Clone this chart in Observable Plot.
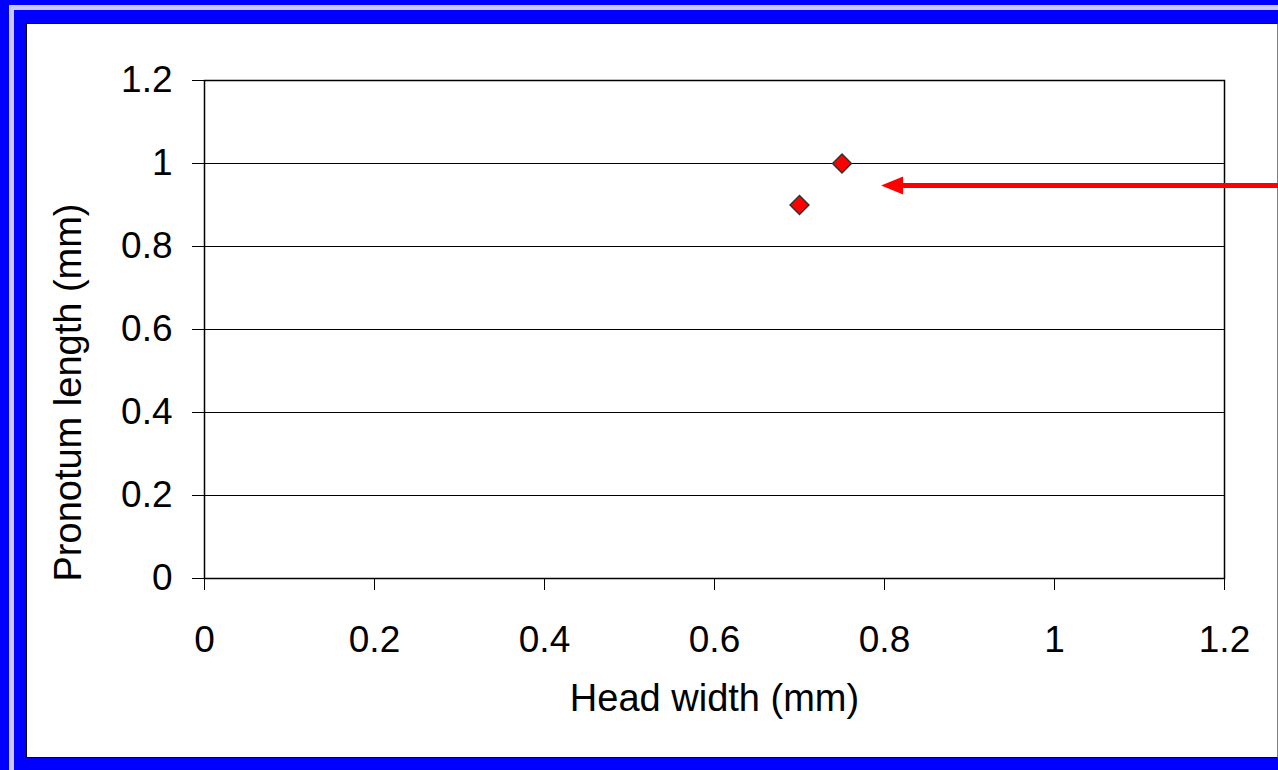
<!DOCTYPE html>
<html>
<head>
<meta charset="utf-8">
<script src="https://cdn.jsdelivr.net/npm/d3@7"></script>
<script src="https://cdn.jsdelivr.net/npm/@observablehq/plot@0.6"></script>
<style>
  html, body { margin: 0; padding: 0; background: #0000ff; }
  #slide {
    position: relative; width: 1278px; height: 770px; overflow: hidden;
    background: #0000ff; font-family: "Liberation Sans", Arial, sans-serif;
  }
  #stripe {
    position: absolute; left: 9px; top: 5px; right: -40px; bottom: -40px;
    border: 5px solid #c8c8ff;
  }
  #panel {
    position: absolute; left: 26px; top: 23px; width: 1252px; height: 735px;
    box-sizing: border-box; background: #fff;
    border: 1px solid #000; border-right-color: #808080;
  }
</style>
</head>
<body>
<div id="slide">
  <div id="stripe"></div>
  <div id="panel"></div>
</div>
<script>
// Measurements: head width vs pronotum length (mm)
const headWidth = [0.7, 0.75];
const pronotumLength = [0.9, 1.0];

// Axis ticks and their labels
const xTicks = [0, 0.2, 0.4, 0.6, 0.8, 1, 1.2];
const xTickLabels = ["0", "0.2", "0.4", "0.6", "0.8", "1", "1.2"];
const yTicks = [0, 0.2, 0.4, 0.6, 0.8, 1, 1.2];
const yTickLabels = ["0", "0.2", "0.4", "0.6", "0.8", "1", "1.2"];

const xTitle = "Head width (mm)";
const yTitle = "Pronotum length (mm)";

// Pointer arrow (tail off to the right, tip near the upper point)
const arrowTail = {x: 1.28, y: 0.947};
const arrowTip = {x: 0.796, y: 0.947};

const points = headWidth.map((x, i) => ({x, y: pronotumLength[i]}));

// Filled arrowhead with its tip at the origin, pointing left
const arrowHead = {
  draw(context) {
    context.moveTo(0, 0);
    context.lineTo(22, -9);
    context.lineTo(22, 9);
    context.closePath();
  }
};

const chart = Plot.plot({
  width: 1250,
  height: 733,
  marginLeft: 177,
  marginRight: 53,
  marginTop: 56,
  marginBottom: 179,
  style: {
    fontFamily: "Liberation Sans, Arial, sans-serif",
    fontSize: "37px",
    color: "#000",
    background: "#fff",
    overflow: "visible"
  },
  x: {domain: [0, 1.2]},
  y: {domain: [0, 1.2]},
  marks: [
    Plot.gridY(yTicks, {stroke: "#000", strokeOpacity: 1, strokeWidth: 1}),
    Plot.frame({stroke: "#000", strokeWidth: 1.5}),
    Plot.axisX({
      ticks: xTicks,
      tickFormat: (d) => xTickLabels[xTicks.indexOf(d)],
      tickSize: 12,
      tickPadding: 35,
      fontSize: 37,
      label: null,
      stroke: "#000"
    }),
    Plot.axisY({
      ticks: yTicks,
      tickFormat: (d) => yTickLabels[yTicks.indexOf(d)],
      tickSize: 12,
      tickPadding: 20,
      fontSize: 37,
      label: null,
      stroke: "#000"
    }),
    Plot.text([xTitle], {
      text: (d) => d,
      frameAnchor: "bottom",
      textAnchor: "middle",
      dy: 132,
      fontSize: 38
    }),
    Plot.text([yTitle], {
      text: (d) => d,
      frameAnchor: "left",
      textAnchor: "middle",
      rotate: -90,
      dx: -136,
      dy: 63,
      fontSize: 38
    }),
    Plot.dot(points, {
      x: "x", y: "y",
      symbol: "diamond2",
      r: 8.5,
      fill: "#ff0000",
      stroke: "#333",
      strokeWidth: 1.5
    }),
    Plot.arrow([{tail: arrowTail, tip: arrowTip}], {
      x1: (d) => d.tail.x, y1: (d) => d.tail.y,
      x2: (d) => d.tip.x, y2: (d) => d.tip.y,
      stroke: "#ff0000",
      strokeWidth: 5,
      headLength: 0,
      insetEnd: 18
    }),
    Plot.dot([arrowTip], {
      x: "x", y: "y",
      symbol: arrowHead,
      fill: "#ff0000",
      stroke: "none"
    })
  ]
});

document.getElementById("panel").appendChild(chart);
</script>
</body>
</html>
